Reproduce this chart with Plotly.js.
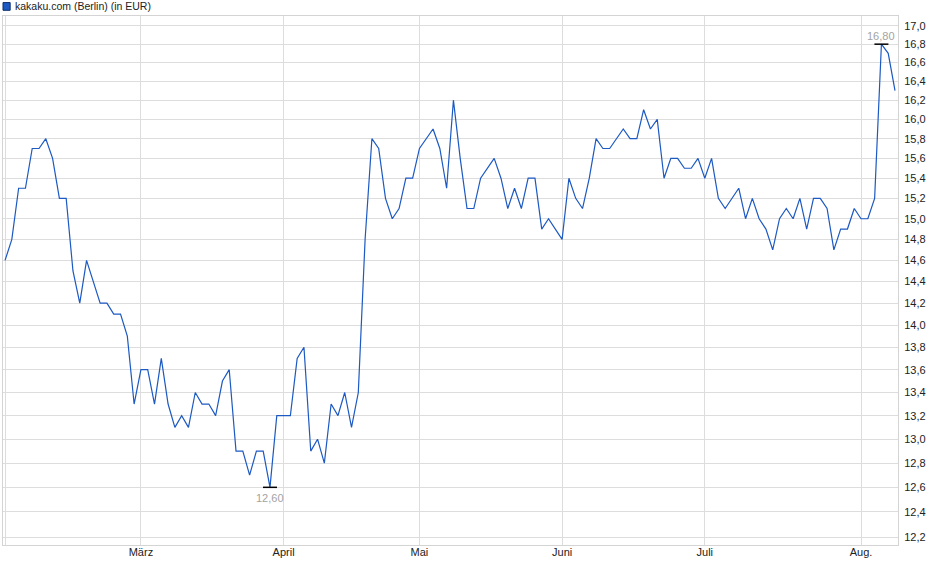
<!DOCTYPE html>
<html>
<head>
<meta charset="utf-8">
<script src="https://cdn.plot.ly/plotly-3.0.1.min.js"></script>
<style>
  html, body { margin: 0; padding: 0; background: #fff; }
  #chart { width: 940px; height: 579px; }
</style>
</head>
<body>
<div id="chart"></div>
<script>
// kakaku.com (Berlin), daily closes in EUR, one value per trading day
const prices = [
    14.6, 14.8, 15.3, 15.3, 15.7, 15.7, 15.8, 15.6, 15.2, 15.2,
    14.5, 14.2, 14.6, 14.4, 14.2, 14.2, 14.1, 14.1, 13.9, 13.3,
    13.6, 13.6, 13.3, 13.7, 13.3, 13.1, 13.2, 13.1, 13.4, 13.3,
    13.3, 13.2, 13.5, 13.6, 12.9, 12.9, 12.7, 12.9, 12.9, 12.6,
    13.2, 13.2, 13.2, 13.7, 13.8, 12.9, 13.0, 12.8, 13.3, 13.2,
    13.4, 13.1, 13.4, 14.8, 15.8, 15.7, 15.2, 15.0, 15.1, 15.4,
    15.4, 15.7, 15.8, 15.9, 15.7, 15.3, 16.2, 15.6, 15.1, 15.1,
    15.4, 15.5, 15.6, 15.4, 15.1, 15.3, 15.1, 15.4, 15.4, 14.9,
    15.0, 14.9, 14.8, 15.4, 15.2, 15.1, 15.4, 15.8, 15.7, 15.7,
    15.8, 15.9, 15.8, 15.8, 16.1, 15.9, 16.0, 15.4, 15.6, 15.6,
    15.5, 15.5, 15.6, 15.4, 15.6, 15.2, 15.1, 15.2, 15.3, 15.0,
    15.2, 15.0, 14.9, 14.7, 15.0, 15.1, 15.0, 15.2, 14.9, 15.2,
    15.2, 15.1, 14.7, 14.9, 14.9, 15.1, 15.0, 15.0, 15.2, 16.8,
    16.7, 16.3
];

// first trading day of each month (index into prices)
const monthStartIdx = [0, 20, 41, 61, 82, 103, 126];
const monthLabels = ['', 'März', 'April', 'Mai', 'Juni', 'Juli', 'Aug.'];

const priceTicks = [12.2, 12.4, 12.6, 12.8, 13.0, 13.2, 13.4, 13.6, 13.8, 14.0, 14.2, 14.4,
    14.6, 14.8, 15.0, 15.2, 15.4, 15.6, 15.8, 16.0, 16.2, 16.4, 16.6, 16.8, 17.0];

const seriesName = 'kakaku.com (Berlin) (in EUR)';

const fmt = (v, d) => v.toFixed(d).replace('.', ',');

const days = prices.map((_, i) => i);
const minIdx = prices.indexOf(Math.min(...prices));
const maxIdx = prices.indexOf(Math.max(...prices));

const theme = {
    line: '#1c59c2',
    grid: '#dddddd',
    frame: '#d4d4d4',
    text: '#222222',
    note: '#a3a3a3'
};

const noteFont = { color: theme.note, size: 11, family: 'Liberation Sans, Arial, sans-serif' };
const barMarker = { symbol: 'line-ew', size: 10, line: { color: '#000', width: 1.5 } };

const traces = [
    {
        x: days,
        y: prices,
        type: 'scatter',
        mode: 'lines',
        line: { color: theme.line, width: 1.2 },
        showlegend: false
    },
    {
        x: [minIdx, maxIdx],
        y: [prices[minIdx], prices[maxIdx]],
        type: 'scatter',
        mode: 'markers',
        marker: barMarker,
        showlegend: false
    }
];

const layout = {
    width: 940,
    height: 579,
    paper_bgcolor: '#fff',
    plot_bgcolor: '#fff',
    font: { family: 'Liberation Sans, Arial, sans-serif', size: 11, color: theme.text },
    margin: { l: 3, r: 42, t: 16, b: 34 },
    showlegend: false,
    xaxis: {
        range: [-0.3, prices.length - 1 + 0.44],
        tickvals: monthStartIdx,
        ticktext: monthLabels,
        showgrid: true,
        gridcolor: theme.grid,
        zeroline: false,
        showline: true,
        linecolor: theme.frame,
        mirror: true,
        ticks: '',
        ticklabelstandoff: -3,
        fixedrange: true
    },
    yaxis: {
        type: 'log',
        side: 'right',
        range: [Math.log10(12.137), Math.log10(17.11)],
        tickvals: priceTicks,
        ticktext: priceTicks.map(v => fmt(v, 1)),
        showgrid: true,
        gridcolor: theme.grid,
        zeroline: false,
        showline: true,
        linecolor: theme.frame,
        mirror: true,
        ticks: 'outside',
        ticklen: 3,
        tickcolor: 'rgba(0,0,0,0)',
        fixedrange: true
    },
    shapes: [{
        type: 'rect',
        xref: 'paper', yref: 'paper',
        x0: 0.0, x1: 0.0080,
        y0: 1.0108, y1: 1.0254,
        fillcolor: theme.line,
        line: { color: '#0d2e6b', width: 1 }
    }],
    annotations: [
        {
            xref: 'paper', yref: 'paper',
            x: 0.0112, y: 1.0189,
            xanchor: 'left', yanchor: 'middle',
            text: seriesName,
            showarrow: false,
            font: { size: 10.5, color: theme.text }
        },
        {
            x: minIdx, y: Math.log10(prices[minIdx]),
            xanchor: 'center', yanchor: 'top',
            yshift: -3,
            text: fmt(prices[minIdx], 2),
            showarrow: false,
            font: noteFont
        },
        {
            x: maxIdx, y: Math.log10(prices[maxIdx]),
            xanchor: 'center', yanchor: 'bottom',
            yshift: 0,
            text: fmt(prices[maxIdx], 2),
            showarrow: false,
            font: noteFont
        }
    ]
};

Plotly.newPlot('chart', traces, layout, { displayModeBar: false, staticPlot: true });
</script>
</body>
</html>
